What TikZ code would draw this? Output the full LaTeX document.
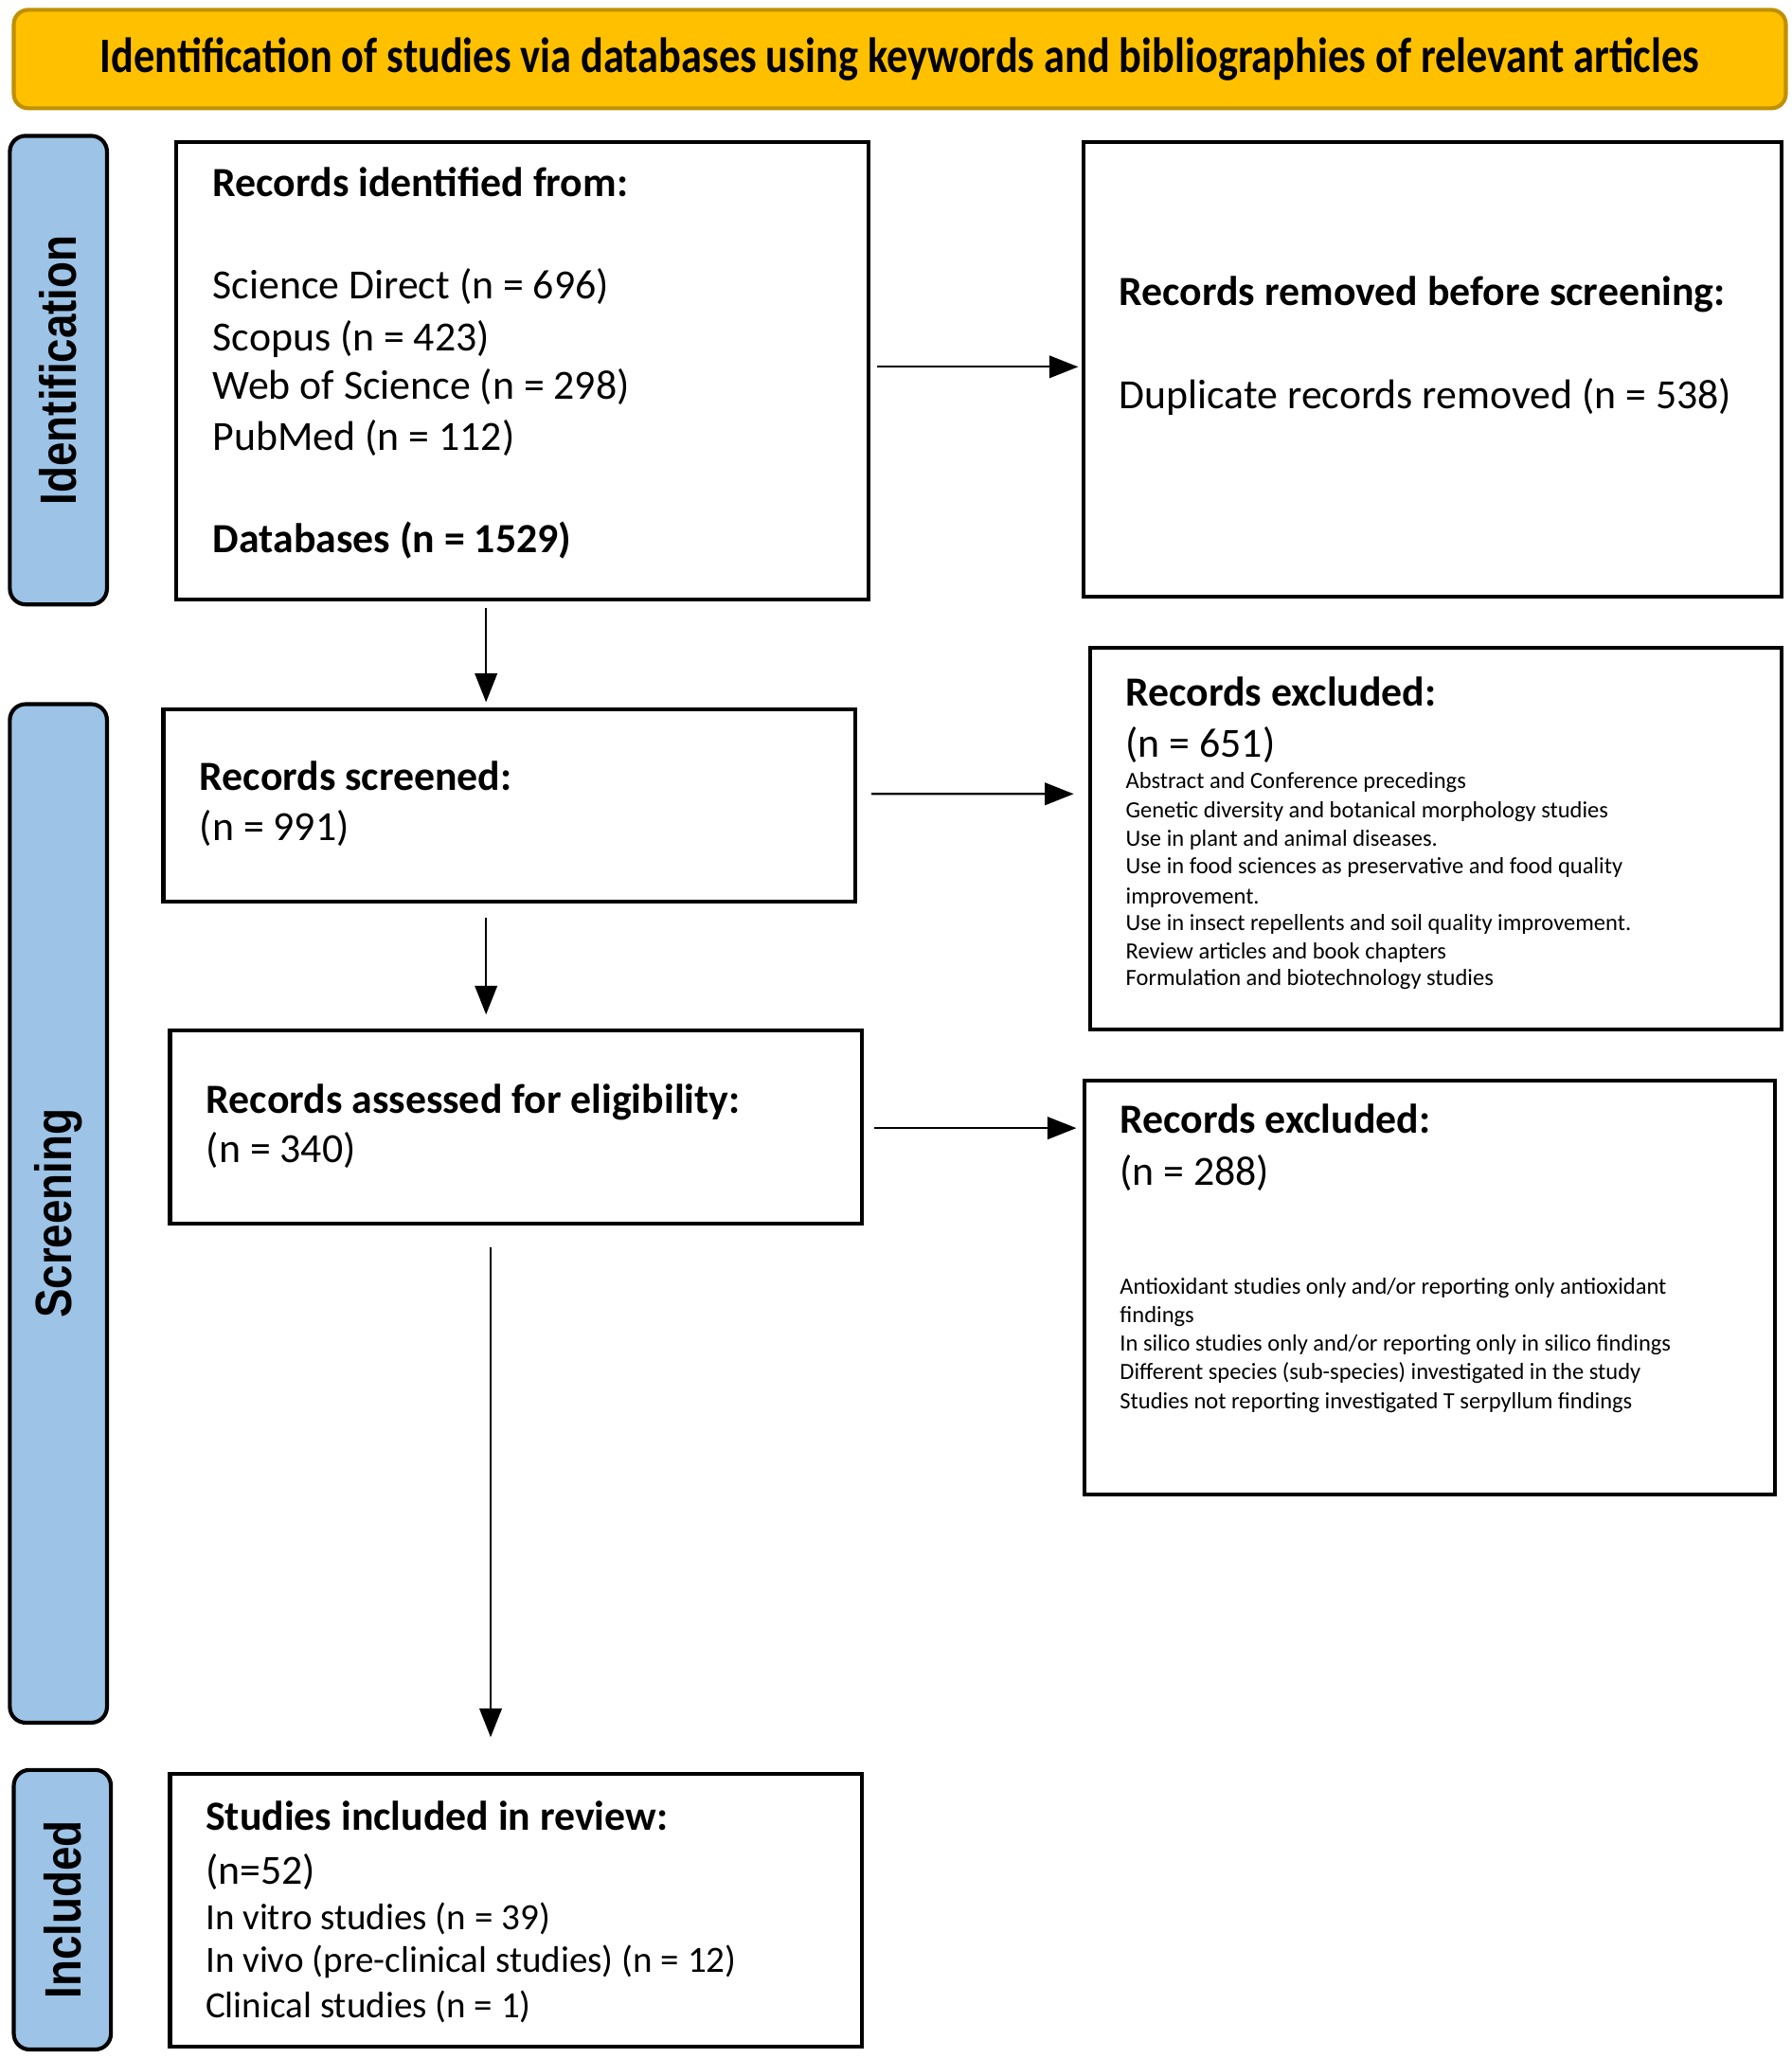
\documentclass[tikz,border=0pt]{standalone}
\usepackage{fontspec}
\setmainfont{Carlito}
\newfontfamily\labfont{Liberation Sans}
\usetikzlibrary{arrows.meta}
\definecolor{gold}{HTML}{FFC000}
\definecolor{golddark}{HTML}{BF9000}
\definecolor{phaseblue}{HTML}{9DC3E6}
\tikzset{
  box/.style={draw=black, line width=3pt, fill=white, inner sep=0pt, anchor=north west},
  phase/.style={draw=black, line width=3pt, fill=phaseblue, rounded corners=12pt, inner sep=0pt, anchor=north west},
  phasetext/.style={rotate=90, inner sep=0pt, font=\labfont\bfseries\fontsize{33}{36}\selectfont},
  banner/.style={draw=golddark, line width=3pt, fill=gold, rounded corners=11pt, inner sep=0pt, anchor=north west},
  arr/.style={line width=1.6pt, -{Triangle[length=22pt,width=17pt]}},
  hd/.style={anchor=base west, inner sep=0pt, font=\bfseries\fontsize{31.6}{38}\selectfont},
  tx/.style={anchor=base west, inner sep=0pt, font=\fontsize{31.6}{38}\selectfont},
  md/.style={anchor=base west, inner sep=0pt, font=\fontsize{28.2}{34}\selectfont},
  sm/.style={anchor=base west, inner sep=0pt, font=\fontsize{17.7}{21}\selectfont},
}
\newcommand{\phlabel}[1]{\scalebox{1}[1.18]{#1}}
\begin{document}
\begin{tikzpicture}[x=1pt,y=-1pt]
\useasboundingbox[fill=white] (0,0) rectangle (1365,1568);

% banner
\node[banner, minimum width=1350pt, minimum height=75pt] (T) at (9,6) {};
\node[inner sep=0pt] (Ttext) at (T.center) {\scalebox{1}[1.18]{\resizebox{1218pt}{!}{\bfseries\fontsize{30}{36}\selectfont Identification of studies via databases using keywords and bibliographies of relevant articles}}};

% phase labels
\node[phase, minimum width=74pt, minimum height=357pt] (P1) at (6,102) {};
\node[phasetext] (P1t) at (P1.center) {\phlabel{Identification}};
\node[phase, minimum width=74pt, minimum height=776pt] (P2) at (6,535) {};
\node[phasetext] (P2t) at (P2.center) {\phlabel{Screening}};
\node[phase, minimum width=74pt, minimum height=213pt] (P3) at (9,1347) {};
\node[phasetext] (P3t) at (P3.center) {\phlabel{Included}};

% boxes
\node[box, minimum width=527pt, minimum height=348pt] (B1) at (133,107) {};
\node[box, minimum width=532pt, minimum height=346pt] (B2) at (824,107) {};
\node[box, minimum width=527pt, minimum height=146.6pt] (B3) at (123,538.8) {};
\node[box, minimum width=527pt, minimum height=291pt] (B4) at (829,492) {};
\node[box, minimum width=527pt, minimum height=147.5pt] (B5) at (128,783.5) {};
\node[box, minimum width=526pt, minimum height=315pt] (B6) at (825,822) {};
\node[box, minimum width=527pt, minimum height=208pt] (B7) at (128,1350) {};

% B1 text
\node[hd] (b1a) at (162,150) {Records identified from:};
\node[tx] (b1b) at (162,227.4) {Science Direct (n = 696)};
\node[tx] (b1c) at (162,267) {Scopus (n = 423)};
\node[tx] (b1d) at (162,304.5) {Web of Science (n = 298)};
\node[tx] (b1e) at (162,343) {PubMed (n = 112)};
\node[hd] (b1f) at (162,421.2) {Databases (n = 1529)};

% B2 text
\node[hd] (b2a) at (852.5,233) {Records removed before screening:};
\node[tx] (b2b) at (852.5,311.7) {Duplicate records removed (n = 538)};

% B3 text
\node[hd] (b3a) at (152,602.5) {Records screened:};
\node[tx] (b3b) at (152,640.5) {(n = 991)};

% B4 text
\node[hd] (b4a) at (857.5,537.7) {Records excluded:};
\node[tx] (b4b) at (857.5,577.2) {(n = 651)};
\node[sm] (b4c) at (857.5,600.5) {Abstract and Conference precedings};
\node[sm] (b4d) at (857.5,622.8) {Genetic diversity and botanical morphology studies};
\node[sm] (b4e) at (857.5,644.8) {Use in plant and animal diseases.};
\node[sm] (b4f) at (857.5,665.9) {Use in food sciences as preservative and food quality};
\node[sm] (b4g) at (857.5,688.7) {improvement.};
\node[sm] (b4h) at (857.5,709.1) {Use in insect repellents and soil quality improvement.};
\node[sm] (b4i) at (857.5,730.7) {Review articles and book chapters};
\node[sm] (b4j) at (857.5,751.1) {Formulation and biotechnology studies};

% B5 text
\node[hd] (b5a) at (157,848) {Records assessed for eligibility:};
\node[tx] (b5b) at (157,885.9) {(n = 340)};

% B6 text
\node[hd] (b6a) at (853,863.3) {Records excluded:};
\node[tx] (b6b) at (853,903.3) {(n = 288)};
\node[sm] (b6c) at (853,986) {Antioxidant studies only and/or reporting only antioxidant};
\node[sm] (b6d) at (853,1008) {findings};
\node[sm] (b6e) at (853,1029) {In silico studies only and/or reporting only in silico findings};
\node[sm] (b6f) at (853,1051) {Different species (sub-species) investigated in the study};
\node[sm] (b6g) at (853,1073.3) {Studies not reporting investigated T serpyllum findings};

% B7 text
\node[hd] (b7a) at (156.5,1394.6) {Studies included in review:};
\node[tx] (b7b) at (156.5,1435.4) {(n=52)};
\node[md] (b7c) at (156.5,1470.2) {In vitro studies (n = 39)};
\node[md] (b7d) at (156.5,1502.6) {In vivo (pre-clinical studies) (n = 12)};
\node[md] (b7e) at (156.5,1537.5) {Clinical studies (n = 1)};

% arrows
\draw[arr] ([xshift=5pt,yshift=3pt]B1.east) -- ([xshift=-2.6pt,yshift=2pt]B2.west);
\draw[arr] ([xshift=-27.7pt,yshift=-5pt]B1.south) -- ([xshift=-17.7pt,yshift=3.8pt]B3.north);
\draw[arr] ([xshift=11pt,yshift=8.7pt]B3.east) -- ([xshift=-11pt,yshift=34.1pt]B4.west);
\draw[arr] ([xshift=-17.7pt,yshift=-10.5pt]B3.south) -- ([xshift=-22.7pt,yshift=10.5pt]B5.north);
\draw[arr] ([xshift=8pt,yshift=-0.75pt]B5.east) -- ([xshift=-5pt,yshift=121.5pt]B6.west);
\draw[arr] ([xshift=-19.2pt,yshift=-16.5pt]B5.south) -- ([xshift=-19.2pt,yshift=26.4pt]B7.north);
\end{tikzpicture}
\end{document}
